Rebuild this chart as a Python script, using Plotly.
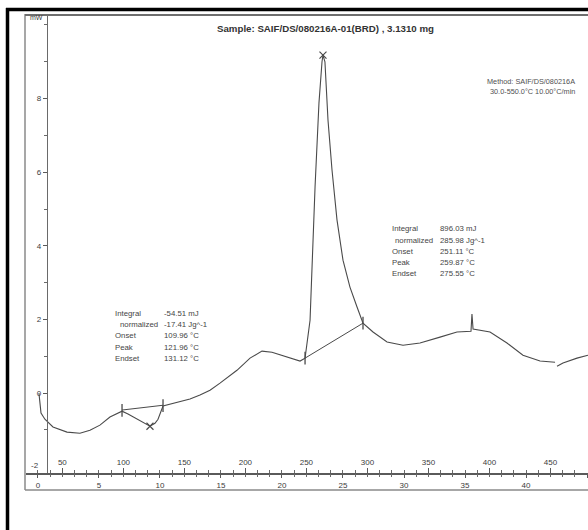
import plotly.graph_objects as go

# ---------------- data ----------------
temperature_c = [30.8, 31.6, 32.5, 35.7, 42.3, 53.8, 64.4, 72.6, 80.8, 89.0,
                 98.9, 103.8, 107.9, 116.1, 121.8, 125.9, 128.4, 132.5, 138.2, 143.9,
                 154.6, 162.8, 171.0, 179.2, 193.1, 203.8, 213.6, 221.8, 234.1, 244.8,
                 248.9, 253.0, 257.1, 260.3, 262.8, 263.6, 265.2, 267.7, 271.0, 275.1,
                 280.0, 285.7, 291.5, 296.4, 304.6, 316.1, 329.2, 343.1, 359.5, 373.4,
                 384.9, 385.7, 386.6, 400.5, 414.4, 427.5, 441.5, 453.8, None,
                 455.4, 460.3, 471.8, 480.8]
heat_flow_mw = [0.00, -0.33, -0.54, -0.71, -0.92, -1.06, -1.09, -1.01, -0.87, -0.65,
                -0.49, -0.57, -0.65, -0.79, -0.90, -0.82, -0.71, -0.35, -0.30, -0.24,
                -0.16, -0.05, 0.08, 0.27, 0.62, 0.95, 1.14, 1.11, 0.98, 0.87,
                0.95, 1.98, 5.60, 7.88, 9.00, 9.18, 9.00, 7.42, 6.06, 4.70,
                3.61, 2.88, 2.34, 1.90, 1.66, 1.39, 1.30, 1.36, 1.52, 1.66,
                1.68, 2.15, 1.74, 1.66, 1.36, 1.03, 0.87, 0.84, None,
                0.73, 0.82, 0.95, 1.03]

# integration baselines
base1_t = [98.9, 132.5]
base1_mw = [-0.46, -0.33]
base2_t = [248.9, 296.4]
base2_mw = [0.95, 1.90]

# integration limit markers and peak markers
limit_t = [98.9, 132.5, 248.9, 296.4]
limit_mw = [-0.47, -0.34, 0.95, 1.90]
peak_t = [121.8, 263.6]
peak_mw = [-0.90, 9.18]

# axes
temp_range = [20.2, 480.8]
time_range = [-0.98, 45.08]
mw_range = [-2.17, 10.27]
temp_ticks = [50, 100, 150, 200, 250, 300, 350, 400, 450]
time_ticks = [0, 5, 10, 15, 20, 25, 30, 35, 40, 45]
mw_ticks = [-2, 0, 2, 4, 6, 8]

title_text = "Sample: SAIF/DS/080216A-01(BRD) , 3.1310 mg"
method_lines = ["Method: SAIF/DS/080216A", "30.0-550.0°C 10.00°C/min"]
block1_labels = ["Integral", "  normalized", "Onset", "Peak", "Endset"]
block1_values = ["-54.51 mJ", "-17.41 Jg^-1", "109.96 °C", "121.96 °C", "131.12 °C"]
block2_labels = ["Integral", "  normalized", "Onset", "Peak", "Endset"]
block2_values = ["896.03 mJ", "285.98 Jg^-1", "251.11 °C", "259.87 °C", "275.55 °C"]

# ---------------- layout helpers ----------------
W, H = 588, 530
ML, MR, MT, MB = 26, 0, 15, 57
PW = W - ML - MR
PH = H - MT - MB


def px(x):
    return (x - ML) / PW


def py(y):
    return (H - MB - y) / PH


INK = "#3c3c3c"
FONT = "Liberation Sans, Arial, sans-serif"

fig = go.Figure()

fig.add_trace(go.Scatter(x=temperature_c, y=heat_flow_mw, mode="lines",
                         line=dict(color="#4a4a4a", width=1.1),
                         connectgaps=False, hoverinfo="skip", showlegend=False))
for bt, bm in ((base1_t, base1_mw), (base2_t, base2_mw)):
    fig.add_trace(go.Scatter(x=bt, y=bm, mode="lines",
                             line=dict(color="#4a4a4a", width=1.0),
                             hoverinfo="skip", showlegend=False))
fig.add_trace(go.Scatter(x=limit_t, y=limit_mw, mode="markers",
                         marker=dict(symbol="line-ns", size=9,
                                     line=dict(color="#4a4a4a", width=1.3)),
                         hoverinfo="skip", showlegend=False))
fig.add_trace(go.Scatter(x=peak_t, y=peak_mw, mode="markers",
                         marker=dict(symbol="x-thin", size=7,
                                     line=dict(color="#4a4a4a", width=1.2)),
                         hoverinfo="skip", showlegend=False))
# time axis carrier (no visible marks)
fig.add_trace(go.Scatter(x=time_ticks, y=[None] * len(time_ticks), xaxis="x2",
                         mode="markers", hoverinfo="skip", showlegend=False))

fig.update_layout(
    width=W, height=H,
    margin=dict(l=ML, r=MR, t=MT, b=MB),
    paper_bgcolor="white", plot_bgcolor="white",
    font=dict(family=FONT, color=INK, size=8),
    xaxis=dict(range=temp_range, tickvals=temp_ticks, showgrid=False, zeroline=False,
               showline=True, linecolor="#5a5a5a", linewidth=1.5,
               ticks="inside", ticklen=5, tickcolor="#5a5a5a", tickwidth=1,
               ticklabelposition="inside", tickfont=dict(size=8, color=INK),
               minor=dict(dtick=10, tick0=0, ticks="inside", ticklen=3,
                          tickcolor="#6a6a6a")),
    xaxis2=dict(range=time_range, tickvals=time_ticks, overlaying="x", anchor="y",
                side="bottom", showgrid=False, zeroline=False, showline=False,
                ticks="outside", ticklen=4, tickcolor="#5a5a5a", tickwidth=1,
                tickfont=dict(size=8, color=INK),
                minor=dict(dtick=1, tick0=0, ticks="outside", ticklen=3,
                           tickcolor="#6a6a6a")),
    yaxis=dict(range=mw_range, tickvals=mw_ticks, showgrid=False, zeroline=False,
               anchor="free", position=px(47), side="left",
               showline=True, linecolor="#6a6a6a", linewidth=1.2,
               ticks="outside", ticklen=4, tickcolor="#5a5a5a",
               tickfont=dict(size=8, color=INK),
               minor=dict(dtick=1, tick0=0, ticks="outside", ticklen=3,
                          tickcolor="#6a6a6a")),
)

# ---------------- frame and scan edges ----------------
shapes = [
    dict(type="line", xref="paper", yref="paper", x0=px(25), x1=px(25), y0=py(14), y1=py(490),
         line=dict(color="#8a8a8a", width=1.5)),
    dict(type="line", xref="paper", yref="paper", x0=px(25), x1=px(588), y0=py(15), y1=py(15),
         line=dict(color="#6e6e6e", width=2)),
    dict(type="line", xref="paper", yref="paper", x0=px(25), x1=px(588), y0=py(490), y1=py(490),
         line=dict(color="#8a8a8a", width=1.5)),
    dict(type="line", xref="paper", yref="paper", x0=px(7.5), x1=px(7.5), y0=py(8), y1=py(530),
         line=dict(color="black", width=3.5)),
    dict(type="line", xref="paper", yref="paper", x0=px(6), x1=px(588), y0=py(9.5), y1=py(9.5),
         line=dict(color="black", width=3.5)),
]
fig.update_layout(shapes=shapes)

ann = []
ann.append(dict(text="<b>" + title_text + "</b>", x=px(325), y=py(28), xref="paper", yref="paper",
                showarrow=False, xanchor="center", yanchor="middle",
                font=dict(size=9.7, color="#333333")))
ann.append(dict(text="mW", x=px(28), y=py(18), xref="paper", yref="paper", showarrow=False,
                xanchor="left", yanchor="middle", font=dict(size=7, color=INK)))
# lowest y tick label (plotly hides it next to the inside x labels)
ann.append(dict(text="-2", x=px(41), y=py(465), xref="paper", yref="paper", showarrow=False,
                xanchor="right", yanchor="middle", font=dict(size=8, color=INK)))
for i, line in enumerate(method_lines):
    ann.append(dict(text=line, x=px(485 + 3 * i), y=py(81 + 10 * i), xref="paper", yref="paper",
                    showarrow=False, xanchor="left", yanchor="middle",
                    font=dict(size=7.3, color="#505050")))

rows1 = [313, 324, 335, 347, 358]
for lab, val, yy in zip(block1_labels, block1_values, rows1):
    ann.append(dict(text=lab.strip(), x=px(118 if lab.startswith(" ") else 113), y=py(yy),
                    xref="paper", yref="paper", showarrow=False, xanchor="left", yanchor="middle",
                    font=dict(size=7.8, color="#454545")))
    ann.append(dict(text=val, x=px(162), y=py(yy), xref="paper", yref="paper", showarrow=False,
                    xanchor="left", yanchor="middle", font=dict(size=7.8, color="#454545")))

rows2 = [228, 240, 251, 262, 273]
for lab, val, yy in zip(block2_labels, block2_values, rows2):
    ann.append(dict(text=lab.strip(), x=px(393 if lab.startswith(" ") else 390), y=py(yy),
                    xref="paper", yref="paper", showarrow=False, xanchor="left", yanchor="middle",
                    font=dict(size=7.8, color="#454545")))
    ann.append(dict(text=val, x=px(438), y=py(yy), xref="paper", yref="paper", showarrow=False,
                    xanchor="left", yanchor="middle", font=dict(size=7.8, color="#454545")))

fig.update_layout(annotations=ann)

fig.write_html("out.html", config={"displayModeBar": False},
               post_script="document.body.style.margin='0';document.body.style.overflow='hidden';")
